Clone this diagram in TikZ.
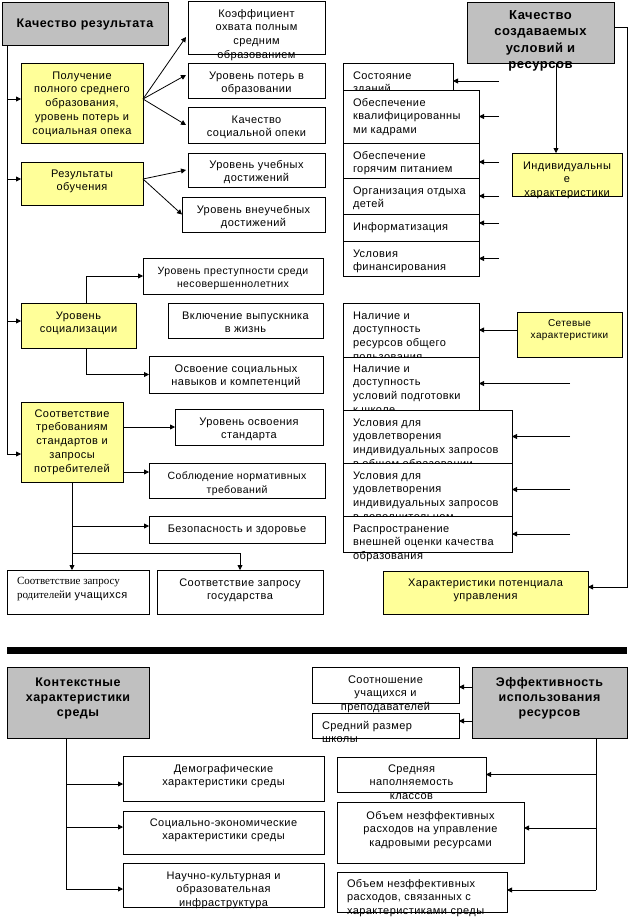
\documentclass[tikz,border=0pt]{standalone}
\usepackage{fontspec}
\setmainfont{Liberation Sans}[LetterSpace=4]
\newfontfamily\serifx{Liberation Serif}
\usetikzlibrary{arrows.meta,calc}
\definecolor{gfill}{HTML}{C0C0C0}
\definecolor{yfill}{HTML}{FFFF99}
% centred text, top aligned: width, height, first-baseline offset, text
\newcommand\tb[4]{\parbox[c][#2pt][t]{#1pt}{\centering\rule{0pt}{#3pt}#4\par}}
% left aligned text with 10pt left pad
\newcommand\lb[4]{\hspace*{10pt}\parbox[c][#2pt][t]{#1pt}{\raggedright\rule{0pt}{#3pt}#4\par}}
\tikzset{
  box/.style={draw, line width=0.8pt, fill=white, inner sep=0pt, outer sep=0pt,
    anchor=north west, font=\fontsize{11}{13.8}\selectfont},
  gbox/.style={box, fill=gfill, font=\bfseries\fontsize{12.5}{15}\selectfont},
  ybox/.style={box, fill=yfill},
  ln/.style={line width=0.8pt},
  arr/.style={line width=0.8pt, -{Triangle[length=5pt,width=5pt]}},
}
\begin{document}
\begin{tikzpicture}[x=1pt,y=-1pt]
\path[fill=white,use as bounding box] (0,0) rectangle (629,919);

% ---------- left part ----------
\node[gbox, minimum width=166pt, minimum height=43pt] (r0) at (2,2) {\tb{160}{43}{25}{Качество результата}};
\node[ybox, minimum width=122pt, minimum height=80pt] (r1) at (21,63) {\tb{116}{80}{16}{Получение\\полного среднего\\образования,\\уровень потерь и\\социальная опека}};
\node[ybox, minimum width=122pt, minimum height=43pt] (r2) at (21,162) {\tb{116}{43}{15}{Результаты\\обучения}};
\node[ybox, minimum width=115pt, minimum height=45pt] (r3) at (21,303) {\tb{109}{45}{16}{Уровень\\социализации}};
\node[ybox, minimum width=102pt, minimum height=80pt] (r4) at (21,402) {\tb{98}{80}{15}{Соответствие\\требованиям\\стандартов и\\запросы\\потребителей}};

\node[box, minimum width=137pt, minimum height=53pt] (a1) at (188,1) {\tb{131}{53}{16}{Коэффициент\\охвата полным\\средним\\образованием}};
\node[box, minimum width=137pt, minimum height=35pt] (a2) at (188,63) {\tb{131}{35}{16}{Уровень потерь в\\образовании}};
\node[box, minimum width=137pt, minimum height=36pt] (a3) at (188,107) {\tb{131}{36}{16}{Качество\\социальной опеки}};
\node[box, minimum width=137pt, minimum height=34pt] (a4) at (188,153) {\tb{131}{34}{15}{Уровень учебных\\достижений}};
\node[box, minimum width=143pt, minimum height=35pt] (a5) at (182,197) {\tb{137}{35}{16}{Уровень внеучебных\\достижений}};

\node[box, minimum width=180pt, minimum height=36pt, font=\fontsize{10.5}{13.3}\selectfont] (b1) at (143,258) {\tb{174}{36}{16}{Уровень преступности среди\\несовершеннолетних}};
\node[box, minimum width=155pt, minimum height=35pt] (b2) at (168,303) {\tb{149}{35}{16}{Включение выпускника\\в жизнь}};
\node[box, minimum width=174pt, minimum height=37pt] (b3) at (149,356) {\tb{168}{37}{16}{Освоение социальных\\навыков и компетенций}};

\node[box, minimum width=148pt, minimum height=36pt] (c1) at (175,409) {\tb{142}{36}{16}{Уровень освоения\\стандарта}};
\node[box, minimum width=176pt, minimum height=35pt, font=\fontsize{10.5}{14}\selectfont] (c2) at (149,463) {\tb{170}{35}{16}{Соблюдение нормативных\\требований}};
\node[box, minimum width=176pt, minimum height=27pt] (c3) at (149,516) {\tb{170}{27}{16}{Безопасность и здоровье}};
\node[box, minimum width=142pt, minimum height=44pt, font=\fontsize{11}{14}\selectfont] (c4) at (7,570) {\lb{132}{44}{14}{{\serifx Соответствие запросу\\родителей}и учащихся}};
\node[box, minimum width=166pt, minimum height=44pt] (c5) at (157,570) {\tb{160}{44}{16}{Соответствие запросу\\государства}};

% ---------- right part ----------
\node[gbox, minimum width=147pt, minimum height=61pt, font=\bfseries\fontsize{13}{16.5}\selectfont] (q0) at (467,2) {\tb{141}{61}{17}{Качество\\создаваемых\\условий и\\ресурсов}};
\node[box, minimum width=110pt, minimum height=36pt] (s1) at (343,63) {\lb{100}{36}{16}{Состояние\\зданий}};
\node[box, minimum width=136pt, minimum height=53pt] (s2) at (343,90) {\lb{126}{53}{16}{Обеспечение\\квалифицированны\\ми кадрами}};
\node[box, minimum width=136pt, minimum height=35pt] (s3) at (343,143) {\lb{126}{35}{16}{Обеспечение\\горячим питанием}};
\node[box, minimum width=136pt, minimum height=36pt] (s4) at (343,178) {\lb{126}{36}{16}{Организация отдыха\\детей}};
\node[box, minimum width=136pt, minimum height=27pt] (s5) at (343,214) {\lb{126}{27}{16}{Информатизация}};
\node[box, minimum width=136pt, minimum height=35pt] (s6) at (343,241) {\lb{126}{35}{16}{Условия\\финансирования}};
\node[ybox, minimum width=110pt, minimum height=43pt] (q1) at (512,153) {\tb{106}{43}{16}{Индивидуальны\\е\\характеристики}};

\node[box, minimum width=136pt, minimum height=54pt] (n1) at (343,303) {\lb{126}{54}{16}{Наличие и\\доступность\\ресурсов общего\\пользования}};
\node[box, minimum width=136pt, minimum height=53pt] (n2) at (343,357) {\lb{126}{53}{15}{Наличие и\\доступность\\условий подготовки\\к школе}};
\node[box, minimum width=169pt, minimum height=53pt] (n3) at (343,410) {\lb{159}{53}{16}{Условия для\\удовлетворения\\индивидуальных запросов\\в общем образовании}};
\node[box, minimum width=169pt, minimum height=53pt] (n4) at (343,463) {\lb{159}{53}{16}{Условия для\\удовлетворения\\индивидуальных запросов\\в дополнительном}};
\node[box, minimum width=169pt, minimum height=36pt] (n5) at (343,516) {\lb{159}{36}{16}{Распространение\\внешней оценки качества\\образования}};
\node[ybox, minimum width=105pt, minimum height=45pt, font=\fontsize{10}{12.3}\selectfont] (q2) at (517,312) {\tb{101}{45}{14.5}{Сетевые\\характеристики}};
\node[ybox, minimum width=205pt, minimum height=43pt] (q3) at (383,571) {\tb{199}{43}{15}{Характеристики потенциала\\управления}};

% ---------- separator ----------
\node[fill=black, inner sep=0pt, minimum width=620pt, minimum height=7pt, anchor=north west] (bar) at (7,647) {};

% ---------- bottom part ----------
\node[gbox, minimum width=142pt, minimum height=71pt] (k0) at (7,667) {\tb{136}{71}{19}{Контекстные\\характеристики\\среды}};
\node[box, minimum width=201pt, minimum height=45pt] (k1) at (123,756) {\tb{195}{45}{16}{Демографические\\характеристики среды}};
\node[box, minimum width=201pt, minimum height=43pt] (k2) at (123,811) {\tb{195}{43}{15}{Социально-экономические\\характеристики среды}};
\node[box, minimum width=201pt, minimum height=44pt] (k3) at (123,863) {\tb{195}{44}{16}{Научно-культурная и\\образовательная\\инфраструктура}};

\node[gbox, minimum width=155pt, minimum height=71pt] (e0) at (472,667) {\tb{149}{71}{19}{Эффективность\\использования\\ресурсов}};
\node[box, minimum width=147pt, minimum height=36pt] (e1) at (312,667) {\tb{141}{36}{16}{Соотношение\\учащихся и\\преподавателей}};
\node[box, minimum width=147pt, minimum height=25pt] (e2) at (312,713) {\lb{137}{25}{16}{Средний размер\\школы}};
\node[box, minimum width=149pt, minimum height=35pt] (e3) at (337,757) {\tb{143}{35}{15}{Средняя\\наполняемость\\классов}};
\node[box, minimum width=187pt, minimum height=61pt] (e4) at (337,802) {\tb{181}{61}{17}{Объем незффективных\\расходов на управление\\кадровыми ресурсами}};
\node[box, minimum width=170pt, minimum height=40pt] (e5) at (337,872) {\lb{160}{40}{15}{Объем незффективных\\расходов, связанных с\\характеристиками среды}};

% ---------- connectors: left ----------
\coordinate (lt) at ($(r0.south west)+(5,0)$);
\coordinate (lb) at (lt |- 0,454);
\draw[ln] (lt) -- (lb);
\draw[arr] (lt |- 0,99) -- (r1.west |- 0,99);
\draw[arr] (lt |- 0,179) -- (r2.west |- 0,179);
\draw[arr] (lt |- 0,321) -- (r3.west |- 0,321);
\draw[arr] (lb) -- (lb -| r4.west);

\coordinate (f1) at (r1.east |- 0,99);
\draw[arr] (f1) -- ($(a1.west)+(-2,9.5)$);
\draw[arr] (f1) -- ($(a2.west)+(-2,-5.5)$);
\draw[arr] (f1) -- ($(a3.west)+(-2,0)$);
\coordinate (f2) at (r2.east |- 0,179);
\draw[arr] (f2) -- ($(a4.west)+(-2,0)$);
\draw[arr] (f2) -- (a5.west);

\draw[arr] ($(r3.north)+(7.5,0)$) |- (b1.west);
\draw[arr] ($(r3.south)+(7.5,0)$) |- (b3.west);

\draw[arr] (r4.east |- c1.west) -- (c1.west);
\draw[arr] (r4.east |- 0,472) -- (c2.west |- 0,472);
\coordinate (jn) at (r4.south |- 0,553);
\draw[ln] (r4.south) -- (jn);
\draw[arr] (r4.south |- 0,526) -- (c3.west |- 0,526);
\draw[ln] (jn) -- (jn -| c5.north);
\draw[arr] (jn) -- (jn |- c4.north);
\draw[arr] (jn -| c5.north) -- (c5.north);

% ---------- connectors: right ----------
\coordinate (rr) at (627,0);
\draw[arr] (q0.east |- 0,27) -- (rr |- 0,27) -- (rr |- 0,587) -- (q3.east |- 0,587);
\coordinate (qx) at (556,0);
\draw[arr] (qx |- q0.south) -- (qx |- q1.north);

\coordinate (fx1) at (499,0);
\draw[arr] (fx1 |- s1.east) -- (s1.east);
\draw[arr] (fx1 |- s2.east) -- (s2.east);
\draw[arr] (fx1 |- 0,162) -- (s3.east |- 0,162);
\draw[arr] (fx1 |- s4.east) -- (s4.east);
\draw[arr] (fx1 |- 0,223) -- (s5.east |- 0,223);
\draw[arr] (fx1 |- s6.east) -- (s6.east);

\draw[arr] (q2.west |- n1.east) -- (n1.east);
\coordinate (fx2) at (570,0);
\draw[arr] (fx2 |- n2.east) -- (n2.east);
\draw[arr] (fx2 |- n3.east) -- (n3.east);
\draw[arr] (fx2 |- n4.east) -- (n4.east);
\draw[arr] (fx2 |- n5.east) -- (n5.east);

% ---------- connectors: bottom ----------
\coordinate (kx) at (66,0);
\draw[ln] (kx |- k0.south) -- (kx |- 0,889);
\draw[arr] (kx |- 0,784) -- (k1.west |- 0,784);
\draw[arr] (kx |- 0,827) -- (k2.west |- 0,827);
\draw[arr] (kx |- 0,889) -- (k3.west |- 0,889);

\draw[arr] (e0.west |- 0,687) -- (e1.east |- 0,687);
\draw[arr] (e0.west |- 0,721) -- (e2.east |- 0,721);
\coordinate (ex) at (596,0);
\draw[ln] (ex |- e0.south) -- (ex |- 0,890);
\draw[arr] (ex |- e3.east) -- (e3.east);
\draw[arr] (ex |- 0,828) -- (e4.east |- 0,828);
\draw[arr] (ex |- 0,890) -- (e5.east |- 0,890);
\end{tikzpicture}
\end{document}
